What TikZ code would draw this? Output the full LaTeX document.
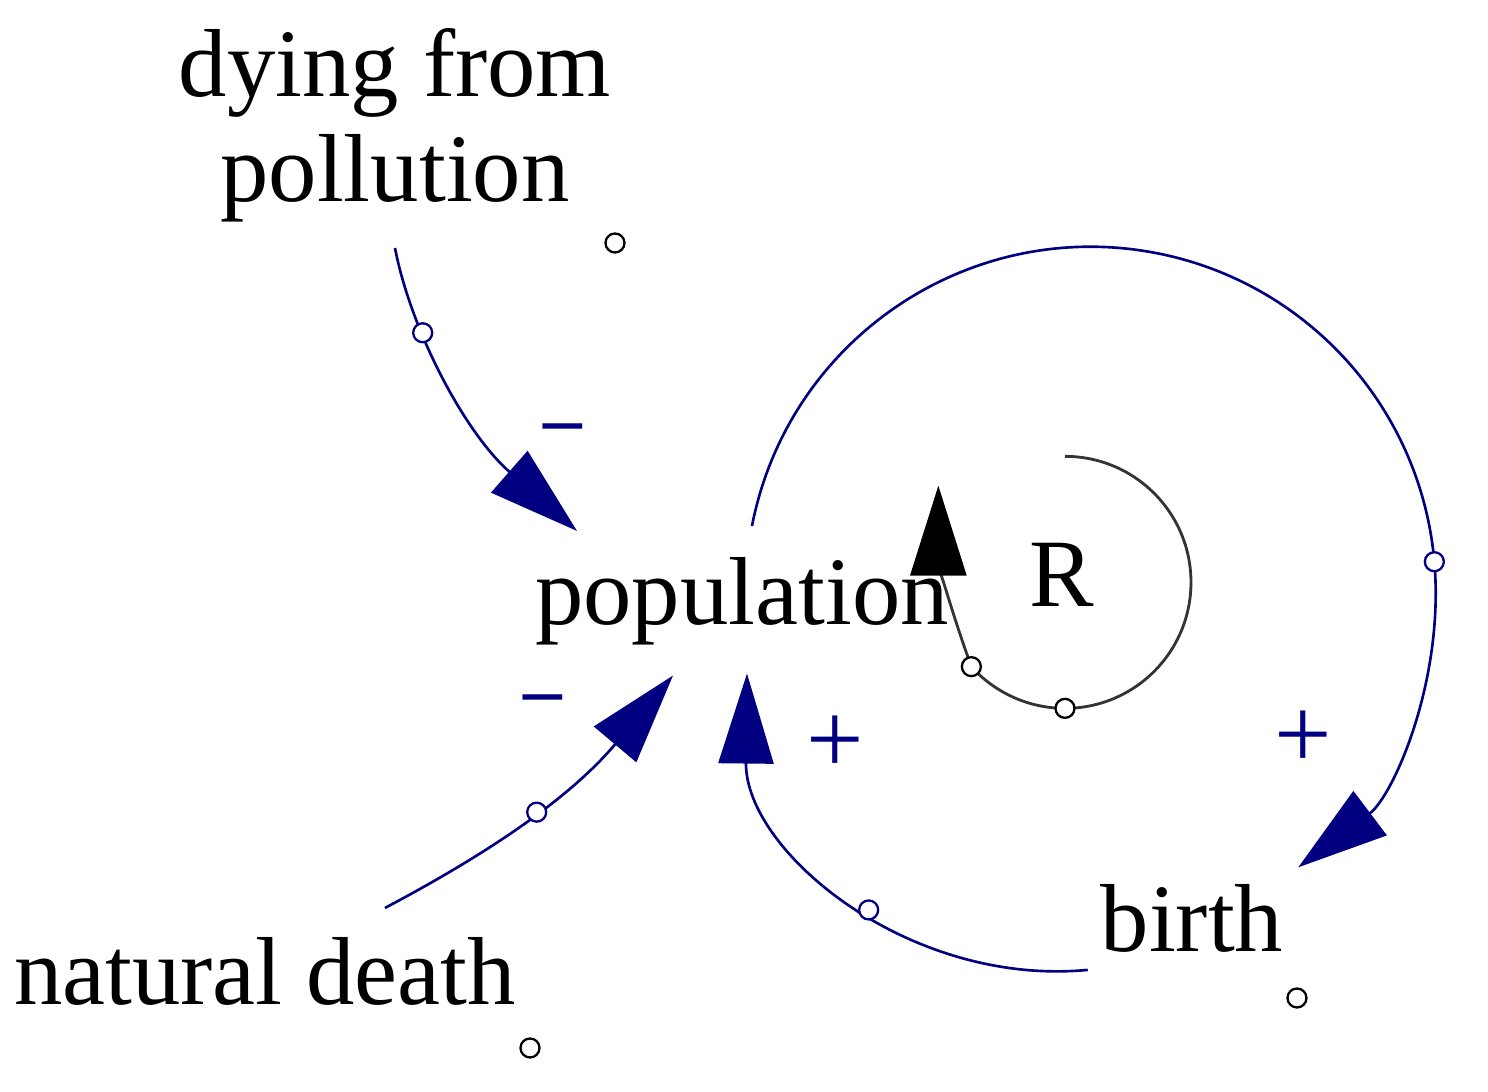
\documentclass[tikz,border=0pt]{standalone}
\usepackage{fontspec}
\setmainfont{Liberation Serif}
\usetikzlibrary{arrows.meta,calc}
\definecolor{navy}{RGB}{0,0,128}
\tikzset{
	varname/.style={font=\fontsize{27.5}{30}\selectfont, inner sep=1.5pt, align=center},
	link/.style={draw=navy, line width=0.75pt, -{Triangle[length=0.9cm,width=0.55cm]}},
	loopline/.style={draw=black!80, line width=0.8pt, -{Triangle[length=0.9cm,width=0.56cm,color=black]}},
	handle/.style={circle, draw=black, fill=white, line width=0.65pt, inner sep=0pt, minimum size=0.19cm},
	polarity/.style={text=navy, inner sep=0pt, anchor=base}
}

\begin{document}
\begin{tikzpicture}
			%%%%% START %%%%%
			\useasboundingbox (0,0) rectangle (14.88,-10.92);
			
			\node[varname] (dying) at (3.95,-1.25) {dying from\\pollution};
			\node[varname, anchor=base] (population) at (7.42,-6.25) {population};
			\node[varname, anchor=base] (birth) at (11.92,-9.52) {birth};
			\node[varname, anchor=base] (natural) at (2.65,-10.05) {natural death};
			
			\node[handle] (dying-h) at (6.15,-2.43) {};
			\node[handle] (natural-h) at (5.30,-10.48) {};
			\node[handle] (birth-h) at (12.97,-9.98) {};
			
			\draw[link] ([yshift=-2mm]dying.south) .. controls +(0.16,-0.83) and +(-1.12,0.98) .. ([shift={(-1.65,0.21)}]population.north) node[pos=0.32, handle, draw=navy] (dp-h) {};
			\draw[link] ([shift={(1.20,0.24)}]natural.north) to[bend right=11] node[pos=0.48, handle, draw=navy] (np-h) {} ([shift={(-0.69,-0.24)}]population.south);
			\draw[link] ([shift={(-0.07,-0.11)}]birth.south west) .. controls +(-1.80,-0.17) and +(-0.02,-1.77) .. ([shift={(0.05,-0.22)}]population.south) node[pos=0.45, handle, draw=navy] (bp-h) {};
			\draw[link] ([shift={(0.10,0.26)}]population.north) arc[start angle=169, end angle=5, radius=3.45] node[handle, draw=navy] (pb-h) {} arc[start angle=5, end angle=-53, radius=3.45];
			
			% loop marker
			\node[varname, anchor=base] (R) at (10.62,-6.07) {R};
			\draw[loopline] ([shift={(0.03,1.19)}]R.center) arc[start angle=90, end angle=-90, radius=1.26] node[handle] (r-h1) {} arc[start angle=-90, end angle=-138, radius=1.26] node[handle] (r-h2) {} to[out=110, in=-90] ++(-0.33,1.81);
			
			\node[polarity, font=\bfseries\fontsize{22}{24}\selectfont] (dp-sign) at (5.63,-4.45) {–};
			\node[polarity, font=\bfseries\fontsize{22}{24}\selectfont] (np-sign) at (5.43,-7.16) {–};
			\node[polarity, font=\fontsize{29}{30}\selectfont, anchor=center] (bp-sign) at (8.35,-7.45) {+};
			\node[polarity, font=\fontsize{29}{30}\selectfont, anchor=center] (pb-sign) at (13.03,-7.40) {+};
			%%%%% END %%%%%
\end{tikzpicture}
\end{document}
